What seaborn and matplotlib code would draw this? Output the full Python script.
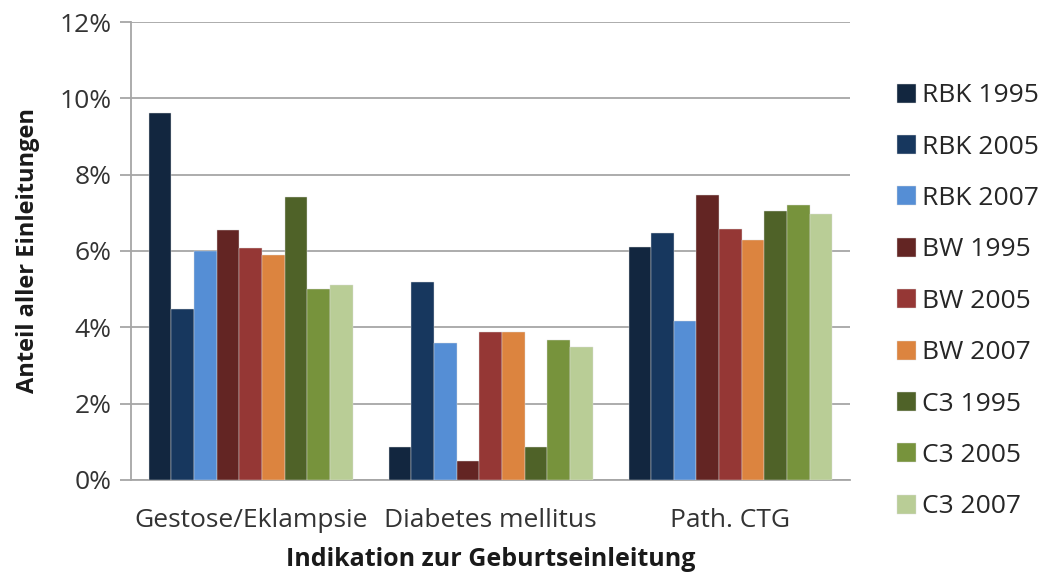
import pandas as pd
import seaborn as sns
import matplotlib.pyplot as plt
from matplotlib.ticker import FuncFormatter

# categories and series
categories = ['Gestose/Eklampsie', 'Diabetes mellitus', 'Path. CTG']
series = ['RBK 1995', 'RBK 2005', 'RBK 2007',
          'BW 1995', 'BW 2005', 'BW 2007',
          'C3 1995', 'C3 2005', 'C3 2007']

# share of all inductions (%), one list per series
rbk_1995 = [9.62, 0.87, 6.10]
rbk_2005 = [4.48, 5.19, 6.47]
rbk_2007 = [6.00, 3.60, 4.17]
bw_1995 = [6.55, 0.51, 7.47]
bw_2005 = [6.09, 3.89, 6.57]
bw_2007 = [5.90, 3.89, 6.29]
c3_1995 = [7.42, 0.87, 7.05]
c3_2005 = [5.00, 3.66, 7.20]
c3_2007 = [5.10, 3.48, 6.98]

colors = ['#12263F', '#17375E', '#558ED5',
          '#632523', '#953735', '#DC843F',
          '#4F6228', '#77933C', '#B9CD96']

values = [rbk_1995, rbk_2005, rbk_2007, bw_1995, bw_2005, bw_2007,
          c3_1995, c3_2005, c3_2007]
rows = []
for name, vals in zip(series, values):
    for cat, v in zip(categories, vals):
        rows.append({'Indikation': cat, 'Serie': name, 'Anteil': v})
df = pd.DataFrame(rows)

sns.set_style('white')
plt.rcParams['font.family'] = ['Open Sans', 'DejaVu Sans']

fig = plt.figure(figsize=(10.46, 5.79), dpi=100)
ax = fig.add_axes([0.125, 0.171, 0.688, 0.791])

sns.barplot(data=df, x='Indikation', y='Anteil', hue='Serie',
            hue_order=series, palette=colors, saturation=1, width=0.85, gap=0,
            edgecolor='#DDDDDD', linewidth=0.3, ax=ax, zorder=3)

ax.set_ylim(0, 12)
ax.set_yticks(range(0, 13, 2))
ax.yaxis.set_major_formatter(FuncFormatter(lambda v, p: f'{int(v)}%'))
ax.grid(axis='y', color='#A6A6A6', linewidth=1.3, zorder=0)
ax.set_axisbelow(True)

for s in ['top', 'right']:
    ax.spines[s].set_visible(False)
for s in ['left', 'bottom']:
    ax.spines[s].set_color('#A6A6A6')
    ax.spines[s].set_linewidth(1.3)

ax.tick_params(axis='y', length=8, width=1.3, color='#A6A6A6',
               labelsize=19, labelcolor='#333333', pad=6, left=True)
ax.tick_params(axis='x', length=0, labelsize=19, labelcolor='#333333', pad=20)

ax.set_xlabel('Indikation zur Geburtseinleitung', fontsize=18,
              fontweight='bold', color='#1a1a1a')
ax.set_ylabel('Anteil aller Einleitungen', fontsize=17, fontweight='bold',
              color='#1a1a1a')
ax.xaxis.set_label_coords(0.5, -0.147)
ax.yaxis.set_label_coords(-0.126, 0.5)

ax.legend(loc='center left', bbox_to_anchor=(1.065, 0.39), frameon=False,
          fontsize=19, handlelength=0.73, handleheight=0.73,
          handletextpad=0.2, labelspacing=1.0, borderpad=0, borderaxespad=0)

fig.savefig('out.png', dpi=100)
